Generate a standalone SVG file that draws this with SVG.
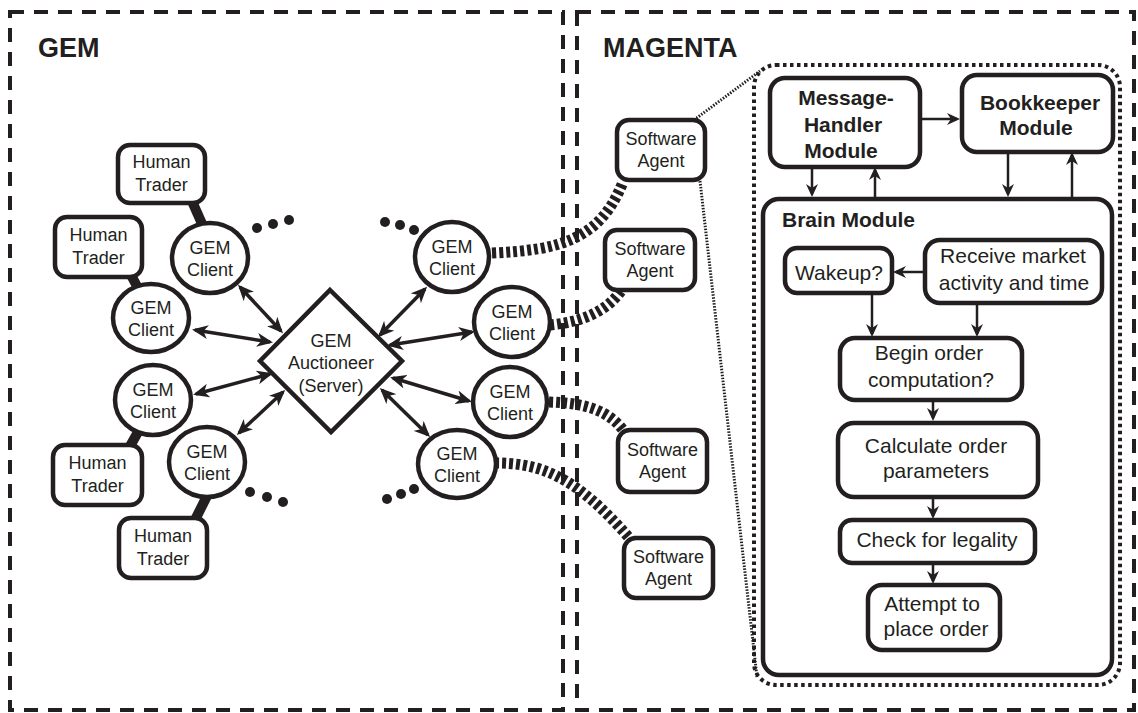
<svg xmlns="http://www.w3.org/2000/svg" width="1138" height="713" viewBox="0 0 1138 713">
<defs>
<style>
.frame{fill:none;stroke:#231f20;stroke-width:4;stroke-dasharray:14 10}
.node{fill:#fff;stroke:#231f20;stroke-width:4.5}
.t{font-family:"Liberation Sans",Arial,sans-serif;font-size:18px;fill:#231f20;text-anchor:middle}
.tf{font-family:"Liberation Sans",Arial,sans-serif;font-size:21px;fill:#231f20;text-anchor:middle}
.tb{font-family:"Liberation Sans",Arial,sans-serif;font-size:21px;font-weight:bold;fill:#231f20;text-anchor:middle}
.title{font-family:"Liberation Sans",Arial,sans-serif;font-size:27px;font-weight:bold;fill:#231f20}
.dbl{stroke:#231f20;stroke-width:3.5;fill:none;marker-start:url(#ahb);marker-end:url(#ahb)}
.sgl{stroke:#231f20;stroke-width:2.5;fill:none;marker-end:url(#ahs)}
.thick{stroke:#231f20;stroke-width:10;fill:none}
.hatch{stroke:#231f20;stroke-width:11;fill:none;stroke-dasharray:4 3}
.fine{stroke:#231f20;stroke-width:3;fill:none;stroke-dasharray:1.5 1.5}
.dots{fill:#231f20}
</style>
<marker id="ahb" viewBox="0 0 16 14" refX="13" refY="7" markerWidth="16" markerHeight="14" markerUnits="userSpaceOnUse" orient="auto-start-reverse"><path d="M0,0 L16,7 L0,14 L4.5,7 z" fill="#231f20"/></marker>
<marker id="ahs" viewBox="0 0 13 12" refX="10" refY="6" markerWidth="13" markerHeight="12" markerUnits="userSpaceOnUse" orient="auto"><path d="M0,0 L13,6 L0,12 L4,6 z" fill="#231f20"/></marker>
</defs>
<rect width="1138" height="713" fill="#fff"/>

<g id="gem-frame">
<rect class="frame" x="10" y="12" width="553" height="698"/>
<text class="title" x="38" y="57">GEM</text>
</g>
<g id="magenta-frame">
<rect class="frame" x="577" y="12" width="557" height="698"/>
<text class="title" x="603" y="57">MAGENTA</text>
</g>

<g id="zoom-callout">
<rect x="754" y="65" width="366" height="620" rx="22" fill="none" stroke="#231f20" stroke-width="4" stroke-dasharray="3.5 3.5"/>
</g>

<g id="brain-module"><rect class="node" x="763" y="199" width="349" height="476" rx="16" fill="none" style="fill:none"/><text class="tb" x="782" y="227" style="text-anchor:start">Brain Module</text></g>

<g id="connectors">
<path class="fine" d="M694,120 L760,71"/>
<path class="fine" d="M700,181 L757,677"/>
<path class="thick" d="M191,199 L203,226"/>
<path class="thick" d="M131,275 L139,290"/>
<path class="thick" d="M129,448 L138,432"/>
<path class="thick" d="M195,520 L207,496"/>
<path class="hatch" d="M492,253 C560,250 600,240 623,182"/>
<path class="hatch" d="M550,325 C580,322 605,313 621,291"/>
<path class="hatch" d="M549,402 C585,403 610,410 626,434"/>
<path class="hatch" d="M495,463 C540,463 575,475 631,540"/>
<path class="dbl" d="M240,287 L281,331"/>
<path class="dbl" d="M195,330 L270,342"/>
<path class="dbl" d="M196,394 L270,374"/>
<path class="dbl" d="M239,433 L283,392"/>
<path class="dbl" d="M425,289 L380,335"/>
<path class="dbl" d="M472,332 L390,345"/>
<path class="dbl" d="M469,401 L393,378"/>
<path class="dbl" d="M428,435 L382,390"/>
<path class="sgl" d="M920,119 L957,119"/>
<path class="sgl" d="M812,167 L812,194"/>
<path class="sgl" d="M875,199 L875,170"/>
<path class="sgl" d="M1008,152 L1008,194"/>
<path class="sgl" d="M1072,199 L1072,155"/>
<path class="sgl" d="M925,272 L896,272"/>
<path class="sgl" d="M872,293 L872,334"/>
<path class="sgl" d="M977,303 L977,334"/>
<path class="sgl" d="M933,400 L933,418"/>
<path class="sgl" d="M933,497 L933,516"/>
<path class="sgl" d="M933,563 L933,581"/>
</g>

<g id="ellipsis-tl" class="dots"><circle cx="257" cy="228" r="5"/><circle cx="273" cy="224" r="5"/><circle cx="289" cy="220" r="5"/></g>
<g id="ellipsis-tr" class="dots"><circle cx="385" cy="222" r="5"/><circle cx="400" cy="225" r="5"/><circle cx="414" cy="230" r="5"/></g>
<g id="ellipsis-bl" class="dots"><circle cx="250" cy="492" r="5"/><circle cx="267" cy="497" r="5"/><circle cx="283" cy="502" r="5"/></g>
<g id="ellipsis-br" class="dots"><circle cx="387" cy="499" r="5"/><circle cx="401" cy="494" r="5"/><circle cx="414" cy="489" r="5"/></g>

<g id="human-trader-1"><rect class="node" x="118" y="145" width="87" height="58" rx="12"/><text class="t" x="161.5" y="168">Human</text><text class="t" x="161.5" y="191">Trader</text></g>
<g id="human-trader-2"><rect class="node" x="55" y="217" width="87" height="60" rx="12"/><text class="t" x="98.5" y="241">Human</text><text class="t" x="98.5" y="264">Trader</text></g>
<g id="human-trader-3"><rect class="node" x="53" y="445" width="89" height="60" rx="12"/><text class="t" x="97.5" y="469">Human</text><text class="t" x="97.5" y="492">Trader</text></g>
<g id="human-trader-4"><rect class="node" x="119" y="518" width="88" height="60" rx="12"/><text class="t" x="163" y="542">Human</text><text class="t" x="163" y="565">Trader</text></g>

<g id="gem-client-1"><ellipse class="node" cx="210" cy="258" rx="38" ry="35"/><text class="t" x="210" y="254">GEM</text><text class="t" x="210" y="276">Client</text></g>
<g id="gem-client-2"><ellipse class="node" cx="151" cy="318" rx="38" ry="34"/><text class="t" x="151" y="314">GEM</text><text class="t" x="151" y="336">Client</text></g>
<g id="gem-client-3"><ellipse class="node" cx="153" cy="400" rx="38" ry="35"/><text class="t" x="153" y="396">GEM</text><text class="t" x="153" y="418">Client</text></g>
<g id="gem-client-4"><ellipse class="node" cx="207" cy="462" rx="38" ry="35"/><text class="t" x="207" y="458">GEM</text><text class="t" x="207" y="480">Client</text></g>
<g id="gem-client-5"><ellipse class="node" cx="452" cy="257" rx="37" ry="35"/><text class="t" x="452" y="253">GEM</text><text class="t" x="452" y="275">Client</text></g>
<g id="gem-client-6"><ellipse class="node" cx="512" cy="322" rx="38" ry="35"/><text class="t" x="512" y="318">GEM</text><text class="t" x="512" y="340">Client</text></g>
<g id="gem-client-7"><ellipse class="node" cx="510" cy="402" rx="37" ry="35"/><text class="t" x="510" y="398">GEM</text><text class="t" x="510" y="420">Client</text></g>
<g id="gem-client-8"><ellipse class="node" cx="457" cy="464" rx="39" ry="34"/><text class="t" x="457" y="460">GEM</text><text class="t" x="457" y="482">Client</text></g>

<g id="gem-auctioneer"><polygon class="node" points="330,290 402,361 331,432 260,361" stroke-width="4"/><text class="t" x="331" y="347">GEM</text><text class="t" x="331" y="369">Auctioneer</text><text class="t" x="331" y="392">(Server)</text></g>

<g id="software-agent-1"><rect class="node" x="617" y="120" width="88" height="60" rx="12"/><text class="t" x="661" y="145">Software</text><text class="t" x="661" y="167">Agent</text></g>
<g id="software-agent-2"><rect class="node" x="605" y="230" width="90" height="60" rx="12"/><text class="t" x="650" y="255">Software</text><text class="t" x="650" y="277">Agent</text></g>
<g id="software-agent-3"><rect class="node" x="618" y="430" width="89" height="62" rx="12"/><text class="t" x="662.5" y="456">Software</text><text class="t" x="662.5" y="478">Agent</text></g>
<g id="software-agent-4"><rect class="node" x="624" y="538" width="89" height="60" rx="12"/><text class="t" x="668.5" y="563">Software</text><text class="t" x="668.5" y="585">Agent</text></g>

<g id="message-handler"><rect class="node" x="770" y="78" width="150" height="89" rx="15"/><text class="tb" x="846" y="105">Message-</text><text class="tb" x="843" y="132">Handler</text><text class="tb" x="841" y="158">Module</text></g>
<g id="bookkeeper"><rect class="node" x="962" y="75" width="151" height="77" rx="15"/><text class="tb" x="1040" y="110">Bookkeeper</text><text class="tb" x="1036" y="135">Module</text></g>
<g id="wakeup"><rect class="node" x="785" y="248" width="107" height="45" rx="12"/><text class="tf" x="839" y="280">Wakeup?</text></g>
<g id="receive"><rect class="node" x="925" y="240" width="177" height="63" rx="15"/><text class="tf" x="1013" y="263">Receive market</text><text class="tf" x="1014" y="290">activity and time</text></g>
<g id="begin-order"><rect class="node" x="840" y="338" width="182" height="62" rx="15"/><text class="tf" x="929" y="360">Begin order</text><text class="tf" x="931" y="387">computation?</text></g>
<g id="calculate"><rect class="node" x="838" y="423" width="200" height="74" rx="16"/><text class="tf" x="936" y="453">Calculate order</text><text class="tf" x="936" y="478">parameters</text></g>
<g id="check-legality"><rect class="node" x="840" y="520" width="195" height="43" rx="12"/><text class="tf" x="937" y="547">Check for legality</text></g>
<g id="attempt"><rect class="node" x="868" y="585" width="132" height="65" rx="14"/><text class="tf" x="932" y="611">Attempt to</text><text class="tf" x="936" y="636">place order</text></g>
</svg>
